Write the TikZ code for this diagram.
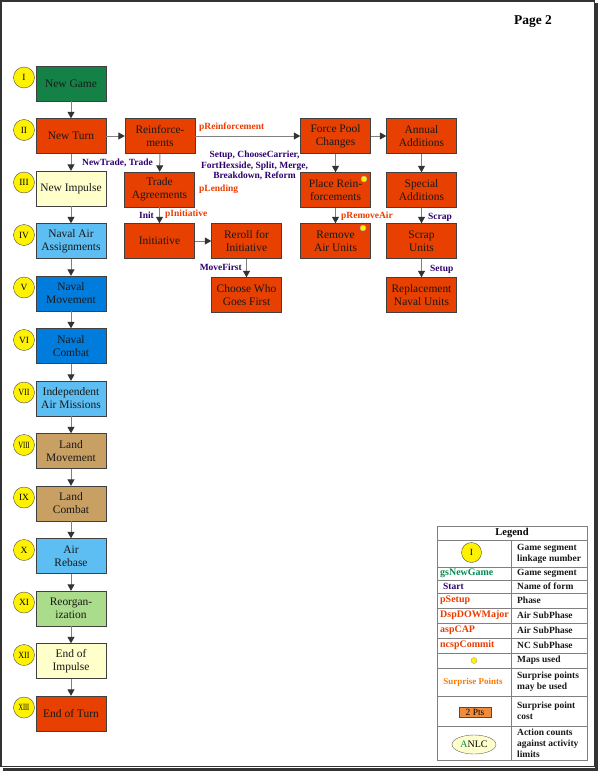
\documentclass[tikz,border=0pt]{standalone}
\usepackage{fontspec}
\setmainfont{Liberation Serif}
\usepackage{xcolor}
\usetikzlibrary{shapes,arrows.meta,positioning}

\definecolor{segred}{RGB}{232,64,0}
\definecolor{seggreen}{RGB}{20,130,70}
\definecolor{segyellow}{RGB}{255,255,204}
\definecolor{segsky}{RGB}{92,190,242}
\definecolor{segblue}{RGB}{0,125,220}
\definecolor{segtan}{RGB}{200,160,100}
\definecolor{seglime}{RGB}{170,220,140}
\definecolor{phred}{RGB}{235,60,0}
\definecolor{formnavy}{RGB}{45,0,110}
\definecolor{gsgreen}{RGB}{0,140,80}
\definecolor{spsorange}{RGB}{255,120,0}
\definecolor{ptsorange}{RGB}{240,140,60}

\begin{document}
\begin{tikzpicture}[x=1bp, y=-1bp, every node/.style={font=\fontsize{11.5}{13}\selectfont}]
  \tikzstyle{block} = [rectangle, draw=black!75, text=black!90, minimum width=70bp, minimum height=35bp, inner sep=1bp, align=center]
  \tikzstyle{blockred} = [block, fill=segred]
  \tikzstyle{blockgreen} = [block, fill=seggreen]
  \tikzstyle{blockyellow} = [block, fill=segyellow]
  \tikzstyle{blocksky} = [block, fill=segsky]
  \tikzstyle{blockblue} = [block, fill=segblue]
  \tikzstyle{blocktan} = [block, fill=segtan]
  \tikzstyle{blocklime} = [block, fill=seglime]
  \tikzstyle{num} = [circle, draw=black!70, fill=yellow, minimum size=21bp, inner sep=0pt, font=\fontsize{9.5}{9.5}\selectfont]
  \tikzstyle{mapdot} = [circle, draw=black!35, fill=yellow, minimum size=6bp, inner sep=0pt]
  \tikzstyle{line} = [draw=gray, line width=1bp, -{Triangle[length=6.5bp,width=7bp,color=black!80]}]
  \tikzstyle{lblred} = [inner sep=0pt, text=phred, font=\fontsize{9.5}{11}\selectfont\bfseries]
  \tikzstyle{lblnavy} = [lblred, text=formnavy]
  \tikzstyle{legtext} = [anchor=west, inner sep=0pt, align=left, text=black!90, font=\fontsize{9.5}{11}\selectfont\bfseries]
  \tikzstyle{legkey} = [anchor=west, inner sep=0pt, font=\fontsize{10}{12}\selectfont\bfseries]
  \tikzstyle{grid} = [draw=gray, line width=0.8bp]

  % Page
  \fill[white] (0,0) rectangle (598,771);
  \useasboundingbox (0,0) rectangle (598,771);
  \draw[black!80, line width=1.2bp] (1,1) rectangle (594.5,766.5);
  \fill[black!80] (595,3) rectangle (598,771);
  \fill[black!80] (3,767.5) rectangle (598,771);
  \node[font=\fontsize{13.5}{15}\selectfont\bfseries] (page) at (533,22) {Page 2};

  % Game segments
  \node[blockgreen] (newgame) at (71,83.5) {New Game};
  \node[blockred] (newturn) at (71,136) {New Turn};
  \node[blockyellow] (newimpulse) at (71,188.5) {New Impulse};
  \node[blocksky] (navalair) at (71,241) {Naval Air\\Assignments};
  \node[blockblue] (navalmove) at (71,293.5) {Naval\\Movement};
  \node[blockblue] (navalcombat) at (71,346) {Naval\\Combat};
  \node[blocksky] (indair) at (71,398.5) {Independent\\Air Missions};
  \node[blocktan] (landmove) at (71,451) {Land\\Movement};
  \node[blocktan] (landcombat) at (71,503.5) {Land\\Combat};
  \node[blocksky] (airrebase) at (71,556) {Air\\Rebase};
  \node[blocklime] (reorg) at (71,608.5) {Reorgan-\\ization};
  \node[blockyellow] (endimpulse) at (71,661) {End of\\Impulse};
  \node[blockred] (endturn) at (71,713.5) {End of Turn};

  % Linkage numbers
  \node[num] (nI) at (24,77.5) {I};
  \node[num] (nII) at (24,130) {II};
  \node[num] (nIII) at (24,182.5) {III};
  \node[num] (nIV) at (24,235) {IV};
  \node[num] (nV) at (24,287.5) {V};
  \node[num] (nVI) at (24,340) {VI};
  \node[num] (nVII) at (24,392.5) {\scalebox{0.85}[1]{VII}};
  \node[num] (nVIII) at (24,445) {\scalebox{0.7}[1]{VIII}};
  \node[num] (nIX) at (24,497.5) {IX};
  \node[num] (nX) at (24,550) {X};
  \node[num] (nXI) at (24,602.5) {XI};
  \node[num] (nXII) at (24,655) {\scalebox{0.85}[1]{XII}};
  \node[num] (nXIII) at (24,707.5) {\scalebox{0.65}[1]{XIII}};

  % New Turn phases
  \node[blockred] (reinf) at (160,136) {Reinforce-\\ments};
  \node[blockred] (trade) at (159.5,189.5) {Trade\\Agreements};
  \node[blockred] (initiative) at (159.5,241) {Initiative};
  \node[blockred] (reroll) at (246.5,241) {Reroll for\\Initiative};
  \node[blockred] (choose) at (246.5,295) {Choose Who\\Goes First};
  \node[blockred] (forcepool) at (335.5,136) {Force Pool\\Changes};
  \node[blockred] (placereinf) at (335.5,190) {Place Rein-\\forcements};
  \node[blockred] (removeair) at (335.5,241) {Remove\\Air Units};
  \node[blockred] (annual) at (421.5,136) {Annual\\Additions};
  \node[blockred] (special) at (421.5,190) {Special\\Additions};
  \node[blockred] (scrap) at (421.5,241) {Scrap\\Units};
  \node[blockred] (replace) at (421.5,295) {Replacement\\Naval Units};
  \node[mapdot] (dotplace) at (364,179) {};
  \node[mapdot] (dotremove) at (363,228) {};

  % Labels
  \node[lblnavy, anchor=west] (lbltrade) at (82,163) {NewTrade, Trade};
  \node[lblred, anchor=west] (lblreinf) at (199,127) {pReinforcement};
  \node[lblnavy, align=center, font=\fontsize{9.5}{10.8}\selectfont\bfseries] (lblsetup) at (254.5,165.5) {Setup, ChooseCarrier,\\FortHexside, Split, Merge,\\Breakdown, Reform};
  \node[lblred, anchor=west] (lbllending) at (199,189) {pLending};
  \node[lblnavy, anchor=east] (lblinit) at (154,215) {Init};
  \node[lblred, anchor=west] (lblinitiative) at (165,214) {pInitiative};
  \node[lblnavy, anchor=east] (lblmove) at (242,267.5) {MoveFirst};
  \node[lblred, anchor=west] (lblremove) at (341,216) {pRemoveAir};
  \node[lblnavy, anchor=west] (lblscrap) at (428,217) {Scrap};
  \node[lblnavy, anchor=west] (lblsetup2) at (430,269) {Setup};

  % Connections
  \draw[line] (newgame) -- (newturn);
  \draw[line] (newturn) -- (newimpulse);
  \draw[line] (newimpulse) -- (navalair);
  \draw[line] (navalair) -- (navalmove);
  \draw[line] (navalmove) -- (navalcombat);
  \draw[line] (navalcombat) -- (indair);
  \draw[line] (indair) -- (landmove);
  \draw[line] (landmove) -- (landcombat);
  \draw[line] (landcombat) -- (airrebase);
  \draw[line] (airrebase) -- (reorg);
  \draw[line] (reorg) -- (endimpulse);
  \draw[line] (endimpulse) -- (endturn);
  \draw[line] (newturn) -- (reinf);
  \draw[line] (reinf) -- (trade);
  \draw[line] (reinf) -- (forcepool);
  \draw[line] (trade) -- (initiative);
  \draw[line] (initiative) -- (reroll);
  \draw[line] (reroll) -- (choose);
  \draw[line] (forcepool) -- (placereinf);
  \draw[line] (forcepool) -- (annual);
  \draw[line] (placereinf) -- (removeair);
  \draw[line] (annual) -- (special);
  \draw[line] (special) -- (scrap);
  \draw[line] (scrap) -- (replace);

  % Legend
  \draw[grid] (437,526) rectangle (587,760);
  \foreach \y in {540,567,580,593,608,623,638,653,668,696,726}
    \draw[grid] (437,\y) -- (587,\y);
  \draw[grid] (511,540) -- (511,760);
  \node[font=\fontsize{10.5}{12}\selectfont\bfseries] (legend) at (512,533) {Legend};

  \node[num, minimum size=20bp] (legnum) at (471.5,552.5) {I};
  \node[legkey, text=gsgreen] (leggs) at (440,573.5) {gsNewGame};
  \node[legkey, text=formnavy, font=\fontsize{9.5}{11}\selectfont\bfseries] (legstart) at (443,586.5) {Start};
  \node[legkey, text=phred] (legphase) at (440,600.5) {pSetup};
  \node[legkey, text=phred] (legdsp) at (440,615.5) {DspDOWMajor};
  \node[legkey, text=phred] (legasp) at (440,630.5) {aspCAP};
  \node[legkey, text=phred] (legncsp) at (440,645.5) {ncspCommit};
  \node[mapdot] (legdot) at (474,660.5) {};
  \node[inner sep=0pt, text=spsorange, font=\fontsize{9}{11}\selectfont\bfseries] (legsurprise) at (473,682) {Surprise Points};
  \node[rectangle, draw=black!70, fill=ptsorange, minimum width=32bp, minimum height=10bp, inner sep=0pt, font=\fontsize{9.5}{10}\selectfont] (legpts) at (475,712) {2 Pts};
  \node[ellipse, draw=black!60, fill=segyellow, minimum width=44bp, minimum height=19bp, inner sep=0pt, font=\fontsize{10}{11}\selectfont] (leganlc) at (474,744.5) {\textcolor{gsgreen}{A}NLC};

  \node[legtext] (dnum) at (517,553.5) {Game segment\\linkage number};
  \node[legtext] (dgs) at (517,573.5) {Game segment};
  \node[legtext] (dstart) at (517,586.5) {Name of form};
  \node[legtext] (dphase) at (517,600.5) {Phase};
  \node[legtext] (ddsp) at (517,615.5) {Air SubPhase};
  \node[legtext] (dasp) at (517,630.5) {Air SubPhase};
  \node[legtext] (dncsp) at (517,645.5) {NC SubPhase};
  \node[legtext] (ddot) at (517,660.5) {Maps used};
  \node[legtext] (dsurprise) at (517,682) {Surprise points\\may be used};
  \node[legtext] (dpts) at (517,711) {Surprise point\\cost};
  \node[legtext] (danlc) at (517,743) {Action counts\\against activity\\limits};
\end{tikzpicture}
\end{document}
